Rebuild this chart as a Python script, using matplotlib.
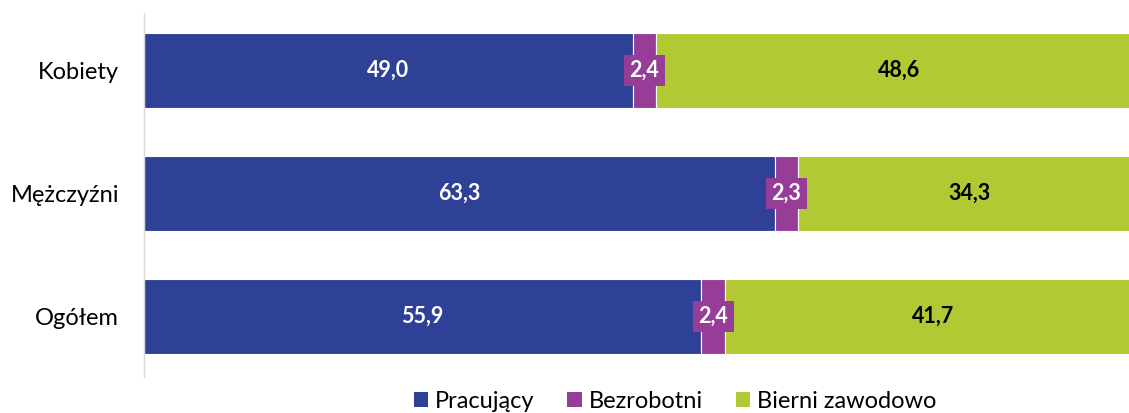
import matplotlib.pyplot as plt
from matplotlib.patches import Patch

plt.rcParams['font.family'] = ['Lato', 'DejaVu Sans']

categories = ["Kobiety", "Mężczyźni", "Ogółem"]
series_names = ["Pracujący", "Bezrobotni", "Bierni zawodowo"]
pracujacy = [49.0, 63.3, 55.9]
bezrobotni = [2.4, 2.3, 2.4]
bierni = [48.6, 34.3, 41.7]

COLORS = ["#2E4197", "#963D97", "#B2C934"]
TEXT_COLORS = ["white", "white", "black"]

fig = plt.figure(figsize=(11.29, 4.13), dpi=100)
ax = fig.add_axes([144 / 1129, 36 / 413, 1 - 144 / 1129, 364 / 413])

ypos = [2, 1, 0]
left = [0.0] * 3
for si, vals in enumerate([pracujacy, bezrobotni, bierni]):
    bars = ax.barh(ypos, vals, left=left, height=0.61, color=COLORS[si],
                   edgecolor="white", linewidth=0.8)
    for b, v in zip(bars, vals):
        cx = b.get_x() + b.get_width() / 2
        cy = b.get_y() + b.get_height() / 2
        txt = f"{v:.1f}".replace(".", ",")
        kw = {}
        if si == 1:
            kw["bbox"] = dict(boxstyle="square,pad=0.25", facecolor=COLORS[1],
                              edgecolor="none")
        ax.text(cx, cy, txt, ha="center", va="center", fontsize=15.5,
                fontweight="bold", color=TEXT_COLORS[si], **kw)
    left = [l + v for l, v in zip(left, vals)]

ax.set_xlim(0, 98.8)
ax.set_ylim(-0.492, 2.467)
ax.set_yticks(ypos)
ax.set_yticklabels(categories, fontsize=17)
ax.set_xticks([])
ax.tick_params(axis="y", length=0, pad=18)
for s in ["top", "right", "bottom"]:
    ax.spines[s].set_visible(False)
ax.spines["left"].set_color("#d9d9d9")
ax.spines["left"].set_linewidth(1.0)

handles = [Patch(facecolor=c, edgecolor="none") for c in COLORS]
fig.legend(handles, series_names, loc="center", bbox_to_anchor=(675 / 1129, 1 - 401 / 413),
           ncol=3, frameon=False, fontsize=17, handlelength=0.6, handleheight=0.6,
           handletextpad=0.3, columnspacing=1.4)

fig.savefig("out.png", dpi=100)
